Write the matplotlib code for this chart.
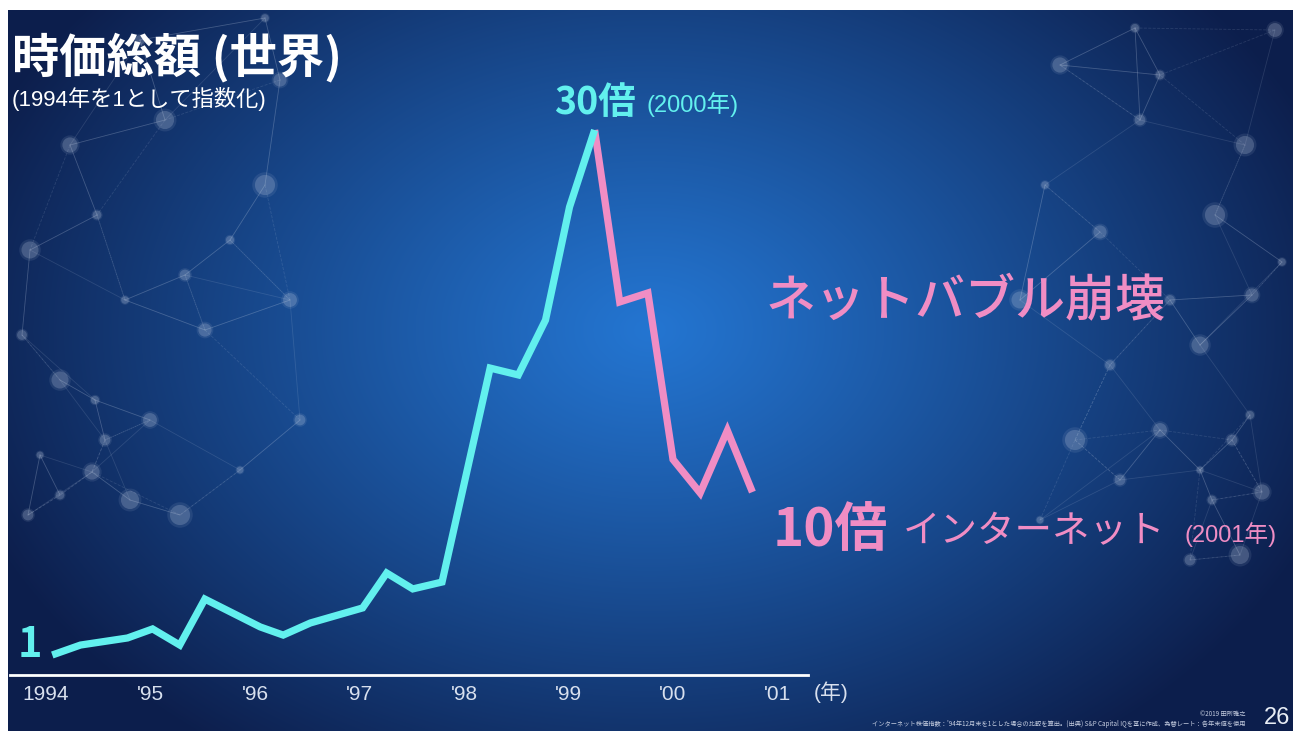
import numpy as np
import matplotlib
matplotlib.use("Agg")
import matplotlib.pyplot as plt

plt.rcParams['font.family'] = ['Noto Sans CJK JP', 'DejaVu Sans']
LATIN = ['Liberation Sans', 'Noto Sans CJK JP']

W, H = 1293, 731

# world market cap index (1994 = 1), roughly quarterly
years = [1994.06, 1994.33, 1994.78, 1995.02, 1995.28, 1995.52, 1996.05, 1996.27,
         1996.53, 1997.03, 1997.26, 1997.51, 1997.79, 1998.25, 1998.52, 1998.78,
         1999.01, 1999.25, 1999.49, 1999.76, 2000.00, 2000.26, 2000.52, 2000.76]
index = [1.0, 1.55, 1.94, 2.44, 1.55, 4.09, 2.55, 2.10,
         2.77, 3.60, 5.53, 4.65, 5.03, 16.85, 16.47, 19.5,
         25.75, 30.0, 20.5, 21.0, 11.8, 9.95, 13.4, 10.0]

tick_years = [1994, 1995, 1996, 1997, 1998, 1999, 2000, 2001]
tick_labels = ['1994', "'95", "'96", "'97", "'98", "'99", "'00", "'01"]

CYAN = '#62f0ee'
PINK = '#f08dc4'

# background nodes of the network pattern (pixel coords)
left_nodes = [(70, 145), (97, 215), (165, 120), (185, 275), (265, 185), (125, 300),
              (205, 330), (22, 335), (60, 380), (95, 400), (150, 420), (105, 440),
              (40, 455), (92, 472), (60, 495), (130, 500), (28, 515), (180, 515),
              (265, 18), (280, 80), (140, 40), (30, 250), (230, 240), (290, 300),
              (300, 420), (240, 470)]
right_nodes = [(1060, 65), (1160, 75), (1245, 145), (1140, 120), (1215, 215), (1045, 185),
               (1252, 295), (1110, 365), (1200, 345), (1250, 415), (1160, 430), (1232, 440),
               (1200, 470), (1262, 492), (1212, 500), (1240, 555), (1120, 480), (1075, 440),
               (1282, 262), (1100, 232), (1170, 300), (1020, 300), (1135, 28), (1275, 30),
               (1190, 560), (1040, 520)]
node_sizes = [120, 40, 170, 60, 210, 30, 90, 50, 150, 35, 100, 60, 25]


def fx(px):
    return px / W


def fy(py):
    return 1 - py / H


fig = plt.figure(figsize=(W / 100, H / 100), dpi=100, facecolor='white')

# radial blue background
bg = fig.add_axes([fx(8), 0, 1 - fx(8), 1 - 10 / H])
bg.set_xlim(8, W)
bg.set_ylim(H, 10)
bg.axis('off')
gx, gy = np.meshgrid(np.linspace(8, W, 400), np.linspace(10, H, 240))
r = np.sqrt(((gx - 650) / 720) ** 2 + ((gy - 330) / 520) ** 2)
t = np.clip(r, 0, 1) ** 1.1
inner = np.array([0.14, 0.46, 0.82])
outer = np.array([0.05, 0.12, 0.30])
img = inner[None, None, :] * (1 - t[..., None]) + outer[None, None, :] * t[..., None]
bg.imshow(img, extent=[8, W, H, 10], aspect='auto', interpolation='bicubic')

# faint network pattern on both sides
for nodes in (left_nodes, right_nodes):
    pts = np.array(nodes, dtype=float)
    for i, p in enumerate(pts):
        d = np.hypot(*(pts - p).T)
        for j in np.argsort(d)[1:4]:
            bg.plot([p[0], pts[j][0]], [p[1], pts[j][1]], color='#c8d4e8',
                    lw=0.6, alpha=0.14, ls='--' if (i + j) % 3 == 0 else '-')
    sizes = np.array([node_sizes[k % len(node_sizes)] for k in range(len(pts))])
    # soft halo plus core for a blurred look
    bg.scatter(pts[:, 0], pts[:, 1], s=sizes * 1.6, color='#c8d4e8', alpha=0.10,
               edgecolors='none', zorder=3)
    bg.scatter(pts[:, 0], pts[:, 1], s=sizes, color='#c8d4e8', alpha=0.22,
               edgecolors='none', zorder=3)

# data axes: 1994 tick at x=46px, one year = 104.5px; value 1 at y=655px, 30 at y=130px
px_per_year = 104.5
px_per_unit = (655 - 130) / 29.0
x0 = 1994 + (10 - 46) / px_per_year
x1 = 1994 + (808 - 46) / px_per_year
y0 = 1 + (655 - 675) / px_per_unit
y1 = 1 + (655 - 80) / px_per_unit

ax = fig.add_axes([fx(10), fy(675), (808 - 10) / W, (675 - 80) / H])
ax.set_xlim(x0, x1)
ax.set_ylim(y0, y1)
ax.patch.set_alpha(0)
for side in ('top', 'right', 'left'):
    ax.spines[side].set_visible(False)
ax.spines['bottom'].set_color('white')
ax.spines['bottom'].set_linewidth(2)
ax.set_yticks([])
ax.set_xticks(tick_years)
ax.set_xticklabels(tick_labels, family=LATIN)
ax.tick_params(axis='x', length=0, pad=7, labelsize=15, labelcolor='#d8e0ee')

peak = int(np.argmax(index))
ax.plot(years[:peak + 1], index[:peak + 1], color=CYAN, lw=5.2,
        solid_joinstyle='miter', solid_capstyle='butt', zorder=4)
ax.plot(years[peak:], index[peak:], color=PINK, lw=5.2,
        solid_joinstyle='miter', solid_capstyle='butt', zorder=3)

# titles
fig.text(fx(12), fy(72), '時価総額 (世界)', color='white', fontsize=34,
         fontweight='bold', va='baseline', ha='left')
fig.text(fx(12), fy(106), '(1994年を1として指数化)', color='white', fontsize=16,
         family=LATIN, va='baseline', ha='left')

# value labels
fig.text(fx(42), fy(645), f'{index[0]:g}', color=CYAN, fontsize=30,
         fontweight='bold', va='center', ha='right')
fig.text(fx(554), fy(114), f'{index[peak]:.0f}倍', color=CYAN, fontsize=27,
         fontweight='bold', va='baseline', ha='left')
fig.text(fx(647), fy(112), '(2000年)', color=CYAN, fontsize=17,
         family=LATIN, va='baseline', ha='left')
fig.text(fx(766), fy(316), 'ネットバブル崩壊', color=PINK, fontsize=36,
         fontweight='medium', va='baseline', ha='left')
fig.text(fx(773), fy(546), f'{index[-1]:.0f}倍', color=PINK, fontsize=38,
         fontweight='bold', va='baseline', ha='left')
fig.text(fx(903), fy(542), 'インターネット', color=PINK, fontsize=27,
         va='baseline', ha='left')
fig.text(fx(1184), fy(542), '(2001年)', color=PINK, fontsize=17,
         family=LATIN, va='baseline', ha='left')

fig.text(fx(814), fy(699), '(年)', color='#d8e0ee', fontsize=15,
         family=LATIN, va='baseline', ha='left')

# footer
fig.text(fx(1245), fy(716), '©2019 田所雅之', color='#c5cde0', fontsize=4.5,
         va='baseline', ha='right')
fig.text(fx(1245), fy(726),
         'インターネット株価指数：\'94年12月末を1とした場合の比較を算出。(出典) S&P Capital IQを基に作成、為替レート：各年末値を使用',
         color='#c5cde0', fontsize=4.5, va='baseline', ha='right')
fig.text(fx(1290), fy(724), '26', color='#e8edf5', fontsize=17,
         family=LATIN, va='baseline', ha='right')

fig.savefig('out.png', dpi=100, facecolor='white')
